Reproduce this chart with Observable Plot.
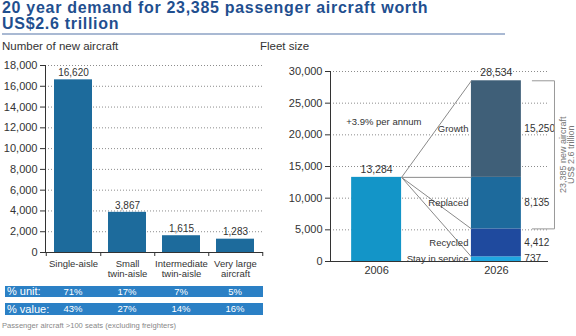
<!DOCTYPE html>
<html><head><meta charset="utf-8">
<script src="https://cdn.jsdelivr.net/npm/d3@7"></script>
<script src="https://cdn.jsdelivr.net/npm/@observablehq/plot@0.6"></script>
<style>
body{margin:0;background:#fff;font-family:"Liberation Sans",Arial,sans-serif}
#root{position:relative;width:576px;height:336px;overflow:hidden;background:#fff}
.abs{position:absolute;white-space:nowrap}
</style></head>
<body><div id="root"></div>
<script>
// ---- data ----
const titleLines = ["20 year demand for 23,385 passenger aircraft worth", "US$2.6 trillion"];
const leftSubtitle = "Number of new aircraft";
const rightSubtitle = "Fleet size";
const caption = "Passenger aircraft >100 seats (excluding freighters)";

const categories = ["Single-aisle", "Small twin-aisle", "Intermediate twin-aisle", "Very large aircraft"];
const categoryLabels = ["Single-aisle", "Small\ntwin-aisle", "Intermediate\ntwin-aisle", "Very large\naircraft"];
const newAircraft = [16620, 3867, 1615, 1283];
const unitShare = ["71%", "17%", "7%", "5%"];
const valueShare = ["43%", "27%", "14%", "16%"];
const tableRowLabels = ["% unit:", "% value:"];
const leftTicks = [0, 2000, 4000, 6000, 8000, 10000, 12000, 14000, 16000, 18000];

const years = [2006, 2026];
const fleet2006 = 13284;
const segments = ["Stay in service", "Recycled", "Replaced", "Growth"];
const segmentValues = [737, 4412, 8135, 15250];
const growthNote = "+3.9% per annum";
const rightTicks = [0, 5000, 10000, 15000, 20000, 25000, 30000];
const bracketLines = ["23,385 new aircraft", "US$ 2.6 trillion"];

// ---- styles ----
const font = '"Liberation Sans", Arial, sans-serif';
const textColor = "#333";
const gridStyle = {stroke: "#8c8c8c", strokeOpacity: 1, strokeDasharray: "1,2"};
const barColor = "#1d6b9c";
const col2006 = "#1395c8";
const segColors = ["#1fa6e0", "#1f4a9e", "#1d6a9c", "#3f5f78"];
const fmt = d3.format(",");

const root = document.getElementById("root");
function addDiv(text, css) {
  const d = document.createElement("div");
  d.className = "abs";
  d.textContent = text;
  Object.assign(d.style, css);
  root.appendChild(d);
  return d;
}

// ---- header ----
titleLines.forEach((t, i) => addDiv(t, {left: "2px", top: (-0.5 + i * 16.6) + "px", fontSize: "16px", letterSpacing: "0.7px", fontWeight: "bold", color: "#1f4f8f", lineHeight: "16px"}));
addDiv("", {left: "2px", top: "33px", width: "503px", height: "2px", background: "#a9b9d3"});
addDiv(leftSubtitle, {left: "2px", top: "40px", fontSize: "11.5px", color: textColor});
addDiv(rightSubtitle, {left: "260px", top: "40px", fontSize: "11.5px", color: textColor});

// ---- left chart ----
const LW = 270, LML = 45, LMR = 7;
const step = (LW - LML - LMR) / categories.length; // band step (paddingOuter 0.15 * 2 + 4 bands - 0.3)
const leftData = categories.map((c, i) => ({cat: c, label: categoryLabels[i], value: newAircraft[i]}));
const left = Plot.plot({
  width: LW, height: 227,
  marginLeft: LML, marginRight: LMR, marginTop: 10, marginBottom: 30,
  style: {fontFamily: font, fontSize: "11px", color: textColor, background: "transparent", overflow: "visible"},
  x: {domain: categories, paddingInner: 0.3, paddingOuter: 0.15, axis: null, label: null},
  y: {domain: [0, 18000], axis: null, label: null},
  marks: [
    Plot.gridY(leftTicks, gridStyle),
    Plot.barY(leftData, {x: "cat", y: "value", fill: barColor}),
    Plot.text(leftData, {x: "cat", y: "value", text: d => fmt(d.value), dy: -7, fontSize: 10, fill: textColor}),
    Plot.axisY(leftTicks, {tickFormat: fmt, tickSize: 5, tickPadding: 3, fontSize: 11, fill: textColor, stroke: "#333", label: null}),
    Plot.ruleY([0], {stroke: "#333"}),
    Plot.ruleX(categories, {x: d => d, y1: 0, y2: 0, insetBottom: -4, dx: step / 2, stroke: "#333"}),
    Plot.ruleX([categories[0]], {x: d => d, y1: 0, y2: 0, insetBottom: -4, dx: -step / 2, stroke: "#333"}),
    Plot.frame({anchor: "left", stroke: "#333"}),
    Plot.axisX({tickSize: 0, tickPadding: 7, fontSize: 9.5, lineHeight: 1.1, fill: textColor, label: null, tickFormat: c => categoryLabels[categories.indexOf(c)]})
  ]
});
const lw = document.createElement("div");
lw.className = "abs"; lw.style.left = "0px"; lw.style.top = "55px";
lw.appendChild(left); root.appendChild(lw);

// ---- table under left chart ----
const xs = left.scale("x");
const bw = xs.bandwidth;
[[unitShare, 286, 11], [valueShare, 303, 12]].forEach(([vals, top, h], r) => {
  addDiv("", {left: "5px", top: top + "px", width: "258px", height: h + "px", background: "#2b80c5"});
  addDiv(tableRowLabels[r], {left: "7px", top: top + "px", height: h + "px", lineHeight: h + "px", fontSize: "11px", color: "#fff"});
  vals.forEach((v, i) => {
    const cx = xs.apply(categories[i]) + bw / 2;
    addDiv(v, {left: (cx - 20) + "px", width: "40px", textAlign: "center", top: top + "px", height: h + "px", lineHeight: h + "px", fontSize: "9.5px", color: "#fff"});
  });
});
addDiv(caption, {left: "2px", top: "321px", fontSize: "7.6px", color: "#888"});

// ---- right chart ----
const hw = 4.17; // half bar width in years
const tops = d3.cumsum(segmentValues);
const segData = segments.map((s, i) => ({seg: s, value: segmentValues[i], y1: tops[i] - segmentValues[i], y2: tops[i], color: segColors[i]}));
const total = tops[tops.length - 1];
const right = Plot.plot({
  width: 306, height: 228,
  marginLeft: 60, marginRight: 28, marginTop: 16, marginBottom: 22,
  style: {fontFamily: font, fontSize: "11px", color: textColor, background: "transparent", overflow: "visible"},
  x: {domain: [1998.3, 2034.7], axis: null, label: null},
  y: {domain: [0, 30000], axis: null, label: null},
  marks: [
    Plot.gridY(rightTicks, gridStyle),
    Plot.rectY([{year: years[0], value: fleet2006}], {x1: d => d.year - hw, x2: d => d.year + hw, y1: 0, y2: "value", fill: col2006}),
    Plot.rectY(segData, {x1: years[1] - hw, x2: years[1] + hw, y1: "y1", y2: "y2", fill: "color"}),
    Plot.link(tops, {x1: years[0] + hw, y1: fleet2006, x2: years[1] - hw, y2: d => d, stroke: "#8a8a8a", strokeWidth: 1}),
    Plot.text([fleet2006], {x: years[0], y: d => d, text: d => fmt(d), dy: -8, fontSize: 10.5, fill: textColor}),
    Plot.text([total], {x: years[1], y: d => d, text: d => fmt(d), dy: -8, fontSize: 10.5, fill: textColor}),
    Plot.text(segData, {x: years[1] - hw, y: d => (d.y1 + d.y2) / 2, text: "seg", textAnchor: "end", dx: -3, fontSize: 9.5, fill: textColor}),
    Plot.text(segData, {x: years[1] + hw, y: d => (d.y1 + d.y2) / 2, text: d => fmt(d.value), textAnchor: "start", dx: 3, fontSize: 10, fill: textColor}),
    Plot.text([growthNote], {x: years[0] + 1.2, y: 22000, text: d => d, fontSize: 9.5, fill: textColor}),
    Plot.line([[2032, total], [2035.7, total], [2035.7, tops[1]], [2032, tops[1]]], {stroke: "#999", strokeWidth: 1}),
    Plot.text([bracketLines.join("\n")], {x: 2037.8, y: (total + tops[1]) / 2, text: d => d, rotate: -90, fontSize: 9, lineHeight: 0.95, fill: "#777"}),
    Plot.axisY(rightTicks, {tickFormat: fmt, tickSize: 5, tickPadding: 3, fontSize: 11, fill: textColor, stroke: "#333", label: null}),
    Plot.ruleY([0], {stroke: "#333"}),
    Plot.frame({anchor: "left", stroke: "#333"}),
    Plot.axisX(years, {tickFormat: d => String(d), tickSize: 0, tickPadding: 5, fontSize: 11, fill: textColor, label: null})
  ]
});
const rw = document.createElement("div");
rw.className = "abs"; rw.style.left = "270px"; rw.style.top = "55px";
rw.appendChild(right); root.appendChild(rw);
</script>
</body></html>
